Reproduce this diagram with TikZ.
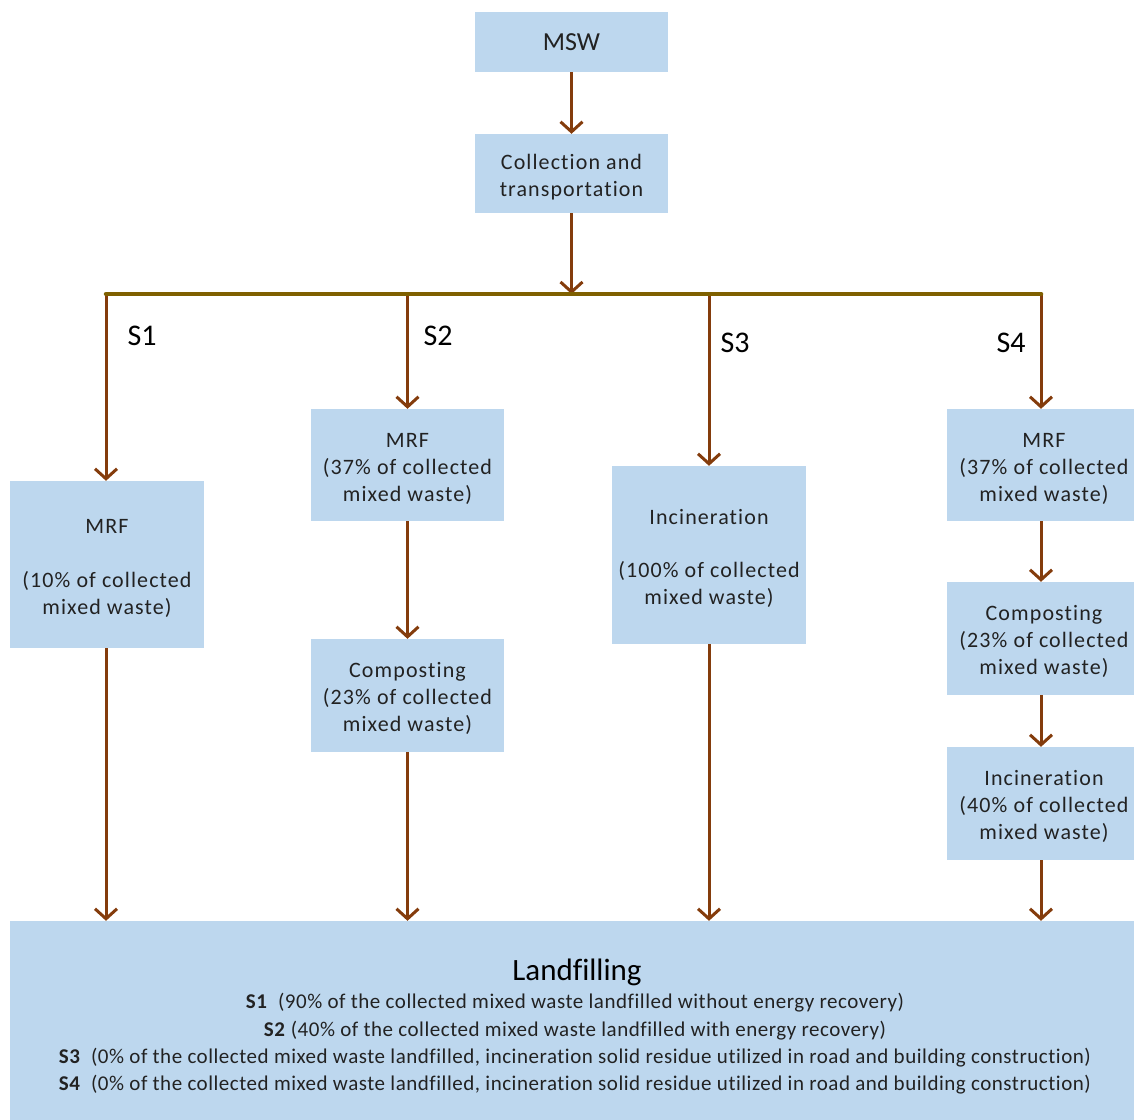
\documentclass[tikz,border=0pt]{standalone}
\usepackage{fontspec}
\setmainfont{Carlito}[Ligatures={TeX,CommonOff}]
\usetikzlibrary{arrows.meta}
\definecolor{boxblue}{HTML}{BDD7EE}
\definecolor{arrbrown}{HTML}{843C0C}
\definecolor{barolive}{HTML}{7F6000}
\definecolor{txt}{HTML}{222222}
\newcommand{\toppad}{\rule{0pt}{22pt}}
\tikzset{
  procbox/.style={fill=boxblue, draw=none, text=txt, align=center, inner sep=0pt,
    font=\fontsize{22}{27}\selectfont\addfontfeature{LetterSpace=5}},
  flow/.style={draw=arrbrown, line width=3pt, -{Straight Barb[length=10pt,width=22pt]}},
  barline/.style={draw=barolive, line width=4.5pt, line cap=round},
  slabel/.style={text=black, font=\fontsize{30}{34}\selectfont, inner sep=0pt}
}
\begin{document}
\begin{tikzpicture}[x=1pt,y=-1pt]
\useasboundingbox (0,0) rectangle (1134,1119);
% boxes
\node[procbox, minimum width=193pt, minimum height=60pt, font=\fontsize{26}{30}\selectfont] (msw) at (571.5,42) {MSW};
\node[procbox, minimum width=193pt, minimum height=79pt] (coll) at (571.5,173.5) {\toppad Collection and\\transportation};
\node[procbox, minimum width=194pt, minimum height=167pt] (s1m) at (107,564.5) {\toppad MRF\\[27pt](10\% of collected\\mixed waste)};
\node[procbox, minimum width=193pt, minimum height=112pt] (s2m) at (407.5,465) {\toppad MRF\\(37\% of collected\\mixed waste)};
\node[procbox, minimum width=193pt, minimum height=113pt] (s2c) at (407.5,695.5) {\toppad Composting\\(23\% of collected\\mixed waste)};
\node[procbox, minimum width=194pt, minimum height=178pt] (s3i) at (709,555) {\toppad Incineration\\[26pt](100\% of collected\\mixed waste)};
\node[procbox, minimum width=194pt, minimum height=112pt] (s4m) at (1044,465) {\toppad MRF\\(37\% of collected\\mixed waste)};
\node[procbox, minimum width=194pt, minimum height=113pt] (s4c) at (1044,638.5) {\toppad Composting\\(23\% of collected\\mixed waste)};
\node[procbox, minimum width=194pt, minimum height=113pt] (s4i) at (1044,803.5) {\toppad Incineration\\(40\% of collected\\mixed waste)};
\node[procbox, minimum width=1135pt, minimum height=204pt] (land) at (577.5,1023) {};
\node[text=black, font=\fontsize{31}{34}\selectfont, inner sep=0pt] (ltitle) at (577,972) {Landfilling};
\node[text=txt, align=center, inner sep=0pt, font=\fontsize{21}{27.3}\selectfont\addfontfeature{LetterSpace=2.5}] (ltext) at (575,1044)
 {\textbf{S1}\ \ (90\% of the collected mixed waste landfilled without energy recovery)\\
  \textbf{S2} (40\% of the collected mixed waste landfilled with energy recovery)\\
  \textbf{S3}\ \ (0\% of the collected mixed waste landfilled, incineration solid residue utilized in road and building construction)\\
  \textbf{S4}\ \ (0\% of the collected mixed waste landfilled, incineration solid residue utilized in road and building construction)};
% bar coordinates
\coordinate (b0) at (571.5,294);
\coordinate (b1) at (106,294);
\coordinate (b2) at (407.5,294);
\coordinate (b3) at (709,294);
\coordinate (b4) at (1041,294);
% labels
\node[slabel] (l1) at (142,336) {S1};
\node[slabel] (l2) at (438,336) {S2};
\node[slabel] (l3) at (735,343) {S3};
\node[slabel] (l4) at (1011,343) {S4};
% arrows
\draw[flow] (msw.south) -- (coll.north);
\draw[flow] (coll.south) -- (b0);
\draw[flow] (b1) -- (s1m.north -| b1);
\draw[flow] (b2) -- (s2m.north);
\draw[flow] (b3) -- (s3i.north);
\draw[flow] (b4) -- (s4m.north -| b4);
\draw[flow] (s1m.south -| b1) -- (land.north -| b1);
\draw[flow] (s2m.south) -- (s2c.north);
\draw[flow] (s2c.south) -- (land.north -| s2c);
\draw[flow] (s3i.south) -- (land.north -| s3i);
\draw[flow] (s4m.south -| b4) -- (s4c.north -| b4);
\draw[flow] (s4c.south -| b4) -- (s4i.north -| b4);
\draw[flow] (s4i.south -| b4) -- (land.north -| b4);
\draw[barline] (b1) -- (b4);
\end{tikzpicture}
\end{document}
